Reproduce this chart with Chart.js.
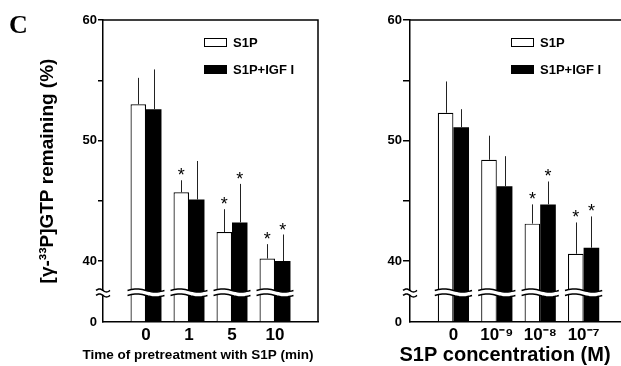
<!DOCTYPE html>
<html>
<head>
<meta charset="utf-8">
<script src="https://cdn.jsdelivr.net/npm/chart.js@4/dist/chart.umd.min.js"></script>
<style>
    html, body { margin: 0; padding: 0; background: #fff; overflow: hidden; width: 621px; height: 366px; }
    .panel { position: absolute; top: 0; height: 366px; }
    #panelA { left: 0; width: 345px; }
    #panelB { left: 340px; width: 290px; }
</style>
</head>
<body>
<div class="panel" id="panelA"><canvas id="graficaA"></canvas></div>
<div class="panel" id="panelB"><canvas id="graficaB"></canvas></div>
<script>
// Datos
const etiquetasTiempo = ["", "0", "1", "5", "10", ""];
const etiquetasConc = ["", "0", "10⁻⁹", "10⁻⁸", "10⁻⁷", ""];

const tiempoS1P = [null, 53.0, 45.7, 42.4, 40.2, null];
const tiempoS1PErr = [0, 2.2, 1.0, 1.9, 1.2, 0];
const tiempoIGF = [null, 52.6, 45.1, 43.2, 40.0, null];
const tiempoIGFErr = [0, 3.3, 3.2, 3.2, 2.2, 0];
const tiempoAstS1P = [false, false, true, true, true, false];
const tiempoAstIGF = [false, false, false, true, true, false];

const concS1P = [null, 52.3, 48.4, 43.1, 40.6, null];
const concS1PErr = [0, 2.6, 2.0, 1.6, 2.6, 0];
const concIGF = [null, 51.1, 46.2, 44.7, 41.1, null];
const concIGFErr = [0, 1.5, 2.5, 1.9, 2.6, 0];
const concAstS1P = [false, false, false, true, true, false];
const concAstIGF = [false, false, false, true, true, false];

const nombresSeries = ["S1P", "S1P+IGF I"];

// Eje Y partido: por debajo de 40 el eje salta a 0
const ejeMin = 34.94;
const ejeMax = 60;
const corte = 37.35;
const ticksY = [40, 45, 50, 55, 60];
const etiquetasTicksY = ["40", "", "50", "", "60"];

const fuente = '"Liberation Sans", Arial, sans-serif';
Chart.defaults.font.family = fuente;
Chart.defaults.color = "#000";

// Onda para el corte del eje
function onda(ctx, x0, x1, y, amp) {
    const pasos = 20;
    for (let k = 0; k <= pasos; k++) {
        const x = x0 + (x1 - x0) * k / pasos;
        const yy = y - amp * Math.sin(2 * Math.PI * k / pasos);
        if (k === 0) ctx.moveTo(x, yy); else ctx.lineTo(x, yy);
    }
}

const pluginDetalles = {
    id: "detalles",
    afterDatasetsDraw(chart, args, opts) {
        const ctx = chart.ctx;
        const { left, right, top, bottom } = chart.chartArea;
        const y = chart.scales.y;
        ctx.save();

        // marco superior / derecho
        ctx.strokeStyle = "#000";
        ctx.lineWidth = 1.5;
        ctx.beginPath();
        ctx.moveTo(left, top);
        ctx.lineTo(right, top);
        if (opts.marcoDerecho) ctx.lineTo(right, bottom);
        ctx.stroke();

        // barras de error y asteriscos
        opts.errores.forEach((errores, d) => {
            const meta = chart.getDatasetMeta(d);
            const datos = chart.data.datasets[d].data;
            meta.data.forEach((barra, i) => {
                if (datos[i] == null) return;
                const yErr = y.getPixelForValue(datos[i] + errores[i]);
                ctx.strokeStyle = "#222";
                ctx.lineWidth = 1;
                ctx.beginPath();
                ctx.moveTo(Math.round(barra.x) + 0.5, barra.y);
                ctx.lineTo(Math.round(barra.x) + 0.5, yErr);
                ctx.stroke();
                if (opts.asteriscos[d][i]) {
                    ctx.fillStyle = "#000";
                    ctx.font = "18px " + fuente;
                    ctx.textAlign = "center";
                    ctx.textBaseline = "alphabetic";
                    ctx.fillText("*", barra.x, yErr + 1);
                }
            });
        });

        // cortes sobre las barras
        const yc = y.getPixelForValue(corte);
        const m0 = chart.getDatasetMeta(0).data;
        const m1 = chart.getDatasetMeta(1).data;
        chart.data.datasets[0].data.forEach((v, i) => {
            if (v == null) return;
            const x0 = m0[i].x - m0[i].width / 2 - 3;
            const x1 = m1[i].x + m1[i].width / 2 + 3;
            ctx.fillStyle = "#fff";
            ctx.beginPath();
            onda(ctx, x0, x1, yc - 2.5, 1.5);
            const pasos = 20;
            for (let k = pasos; k >= 0; k--) {
                const x = x0 + (x1 - x0) * k / pasos;
                ctx.lineTo(x, yc + 2.5 - 1.5 * Math.sin(2 * Math.PI * k / pasos));
            }
            ctx.closePath();
            ctx.fill();
            ctx.strokeStyle = "#000";
            ctx.lineWidth = 1.5;
            ctx.beginPath();
            onda(ctx, x0, x1, yc - 2.5, 1.5);
            ctx.stroke();
            ctx.beginPath();
            onda(ctx, x0, x1, yc + 2.5, 1.5);
            ctx.stroke();
        });

        // corte sobre el eje Y
        ctx.fillStyle = "#fff";
        ctx.fillRect(left - 2, yc - 2, 4, 4);
        ctx.strokeStyle = "#000";
        ctx.lineWidth = 1.5;
        ctx.beginPath();
        onda(ctx, left - 7, left + 7, yc - 2.5, 1.5);
        ctx.stroke();
        ctx.beginPath();
        onda(ctx, left - 7, left + 7, yc + 2.5, 1.5);
        ctx.stroke();

        // leyenda
        const lx = left + opts.leyendaX;
        [["#fff", 38], ["#000", 65]].forEach(([color, ly], k) => {
            ctx.fillStyle = color;
            ctx.fillRect(lx, ly, 23, 9);
            ctx.strokeStyle = "#000";
            ctx.lineWidth = 1;
            ctx.strokeRect(lx + 0.5, ly + 0.5, 22, 8);
            ctx.fillStyle = "#000";
            ctx.font = "bold 13px " + fuente;
            ctx.textAlign = "left";
            ctx.textBaseline = "middle";
            ctx.fillText(nombresSeries[k], lx + 29, ly + 5);
        });

        // título del eje X
        ctx.fillStyle = "#000";
        ctx.font = opts.tituloX.fuente;
        ctx.textAlign = "center";
        ctx.textBaseline = "middle";
        ctx.fillText(opts.tituloX.texto, opts.tituloX.x, 355);

        // letra del panel
        if (opts.letra) {
            ctx.font = 'bold 26px "Liberation Serif", serif';
            ctx.textAlign = "left";
            ctx.textBaseline = "alphabetic";
            ctx.fillText(opts.letra, 9, 33);
        }
        ctx.restore();
    }
};

function ejeY(ancho, largoTick, titulo) {
    return {
        min: ejeMin,
        max: ejeMax,
        afterBuildTicks: (eje) => {
            eje.ticks = [ejeMin, ...ticksY].map(v => ({ value: v }));
        },
        afterFit: (eje) => { eje.width = ancho; },
        ticks: {
            autoSkip: false,
            padding: 1,
            font: { size: 13, weight: "bold" },
            callback: (v) => v === ejeMin ? "0" : etiquetasTicksY[ticksY.indexOf(v)]
        },
        grid: {
            drawOnChartArea: false,
            tickLength: largoTick,
            lineWidth: 1.5,
            tickColor: (c) => c.tick && c.tick.value === ejeMin ? "rgba(0,0,0,0)" : "#000"
        },
        border: { color: "#000", width: 1.5 },
        title: titulo ? {
            display: true,
            text: titulo,
            font: { size: 19, weight: "bold" },
            padding: { top: 36, bottom: 0 }
        } : { display: false }
    };
}

function ejeX() {
    return {
        offset: false,
        afterFit: (eje) => { eje.height = 44; },
        grid: { display: false },
        border: { color: "#000", width: 1.5 },
        ticks: { autoSkip: false, maxRotation: 0, padding: -5, font: { size: 17, weight: "bold" } }
    };
}

function crearGrafica(canvas, etiquetas, s1p, igf, errores, asteriscos, opciones) {
    return new Chart(canvas, {
        type: "bar",
        data: {
            labels: etiquetas,
            datasets: [{
                label: nombresSeries[0],
                data: s1p,
                backgroundColor: "#fff",
                borderColor: "#000",
                borderWidth: 1.2,
                base: ejeMin,
                barPercentage: 1,
                categoryPercentage: 0.72
            }, {
                label: nombresSeries[1],
                data: igf,
                backgroundColor: "#000",
                borderColor: "#000",
                borderWidth: 0,
                base: ejeMin,
                barPercentage: 1,
                categoryPercentage: 0.72
            }]
        },
        options: {
            responsive: true,
            maintainAspectRatio: false,
            animation: false,
            layout: { padding: opciones.padding },
            scales: {
                x: ejeX(),
                y: ejeY(opciones.anchoY, opciones.largoTick, opciones.tituloY)
            },
            plugins: {
                legend: { display: false },
                tooltip: { enabled: false },
                detalles: {
                    errores,
                    asteriscos,
                    marcoDerecho: opciones.marcoDerecho,
                    leyendaX: 101,
                    tituloX: opciones.tituloX,
                    letra: opciones.letra
                }
            }
        },
        plugins: [pluginDetalles]
    });
}

crearGrafica(
    document.getElementById("graficaA"),
    etiquetasTiempo, tiempoS1P, tiempoIGF,
    [tiempoS1PErr, tiempoIGFErr], [tiempoAstS1P, tiempoAstIGF],
    {
        padding: { top: 20, right: 27, bottom: 0, left: 0 },
        anchoY: 103,
        largoTick: 5,
        tituloY: "[γ-³³P]GTP remaining (%)",
        marcoDerecho: true,
        tituloX: { texto: "Time of pretreatment with S1P (min)", fuente: "bold 13.5px " + fuente, x: 198 },
        letra: "C"
    }
);

crearGrafica(
    document.getElementById("graficaB"),
    etiquetasConc, concS1P, concIGF,
    [concS1PErr, concIGFErr], [concAstS1P, concAstIGF],
    {
        padding: { top: 20, right: 3, bottom: 0, left: 0 },
        anchoY: 70,
        largoTick: 7,
        tituloY: null,
        marcoDerecho: false,
        tituloX: { texto: "S1P concentration (M)", fuente: "bold 20px " + fuente, x: 165 },
        letra: null
    }
);
</script>
</body>
</html>
